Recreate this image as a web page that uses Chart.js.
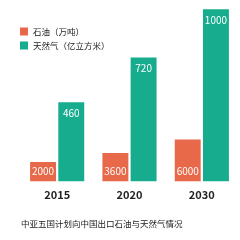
<!DOCTYPE html>
<html>
<head>
<meta charset="utf-8">
<script src="https://cdn.jsdelivr.net/npm/chart.js@4/dist/chart.umd.min.js"></script>
<style>
  html, body { margin: 0; padding: 0; background: #fff; }
  #wrap { width: 240px; height: 240px; }
</style>
</head>
<body>
<div id="wrap"><canvas id="exportChart" width="240" height="240"></canvas></div>
<script>
// data
var years = ['2015', '2020', '2030'];
var oilValues = [2000, 3600, 6000];
var gasValues = [460, 720, 1000];
var seriesNames = ['石油（万吨）', '天然气（亿立方米）'];
var caption = '中亚五国计划向中国出口石油与天然气情况';

var oilColor = '#E8684A';
var gasColor = '#17AC8E';
var fontFamily = '"Noto Sans CJK SC", "Noto Sans", sans-serif';

// value labels inside the bars, plus the little legend top-left
var barLabels = {
  id: 'barLabels',
  afterDatasetsDraw: function (chart) {
    var c = chart.ctx;
    c.save();
    c.font = '10px ' + fontFamily;
    c.fillStyle = '#fff';
    c.textAlign = 'center';
    c.textBaseline = 'middle';
    chart.data.datasets.forEach(function (ds, i) {
      chart.getDatasetMeta(i).data.forEach(function (bar, j) {
        var y = i === 0 ? bar.base - 10 : bar.y + 11;
        c.fillText(ds.data[j], bar.x, y);
      });
    });
    // legend
    c.font = '8.5px ' + fontFamily;
    c.textAlign = 'left';
    chart.data.datasets.forEach(function (ds, i) {
      var y = 31.5 + i * 14;
      c.fillStyle = ds.backgroundColor;
      c.fillRect(20, y - 4, 8, 8);
      c.fillStyle = '#222';
      c.fillText(ds.label, 33, y);
    });
    c.restore();
  }
};

var ctx = document.getElementById('exportChart').getContext('2d');
var exportChart = new Chart(ctx, {
  type: 'bar',
  data: {
    labels: years,
    datasets: [{
      label: seriesNames[0],
      data: oilValues,
      backgroundColor: oilColor,
      yAxisID: 'yOil',
      base: -1500,
      categoryPercentage: 0.78,
      barPercentage: 0.92
    }, {
      label: seriesNames[1],
      data: gasValues,
      backgroundColor: gasColor,
      yAxisID: 'yGas',
      categoryPercentage: 0.78,
      barPercentage: 0.92
    }]
  },
  options: {
    responsive: false,
    animation: false,
    layout: {
      padding: { left: 21, right: 2, top: 5, bottom: 4 }
    },
    plugins: {
      legend: { display: false },
      tooltip: { enabled: false },
      title: {
        display: true,
        text: caption,
        position: 'bottom',
        align: 'start',
        color: '#222',
        font: { family: fontFamily, size: 8.5, weight: 'normal' },
        padding: { top: 10, bottom: 7 }
      }
    },
    scales: {
      x: {
        grid: { display: false, drawTicks: false },
        border: { display: false },
        ticks: {
          color: '#222',
          padding: 7,
          font: { family: fontFamily, size: 11, weight: 'bold' }
        }
      },
      yOil: {
        display: false,
        min: -1500,
        max: 30000
      },
      yGas: {
        display: false,
        min: 0,
        max: 1025
      }
    }
  },
  plugins: [barLabels]
});
</script>
</body>
</html>
